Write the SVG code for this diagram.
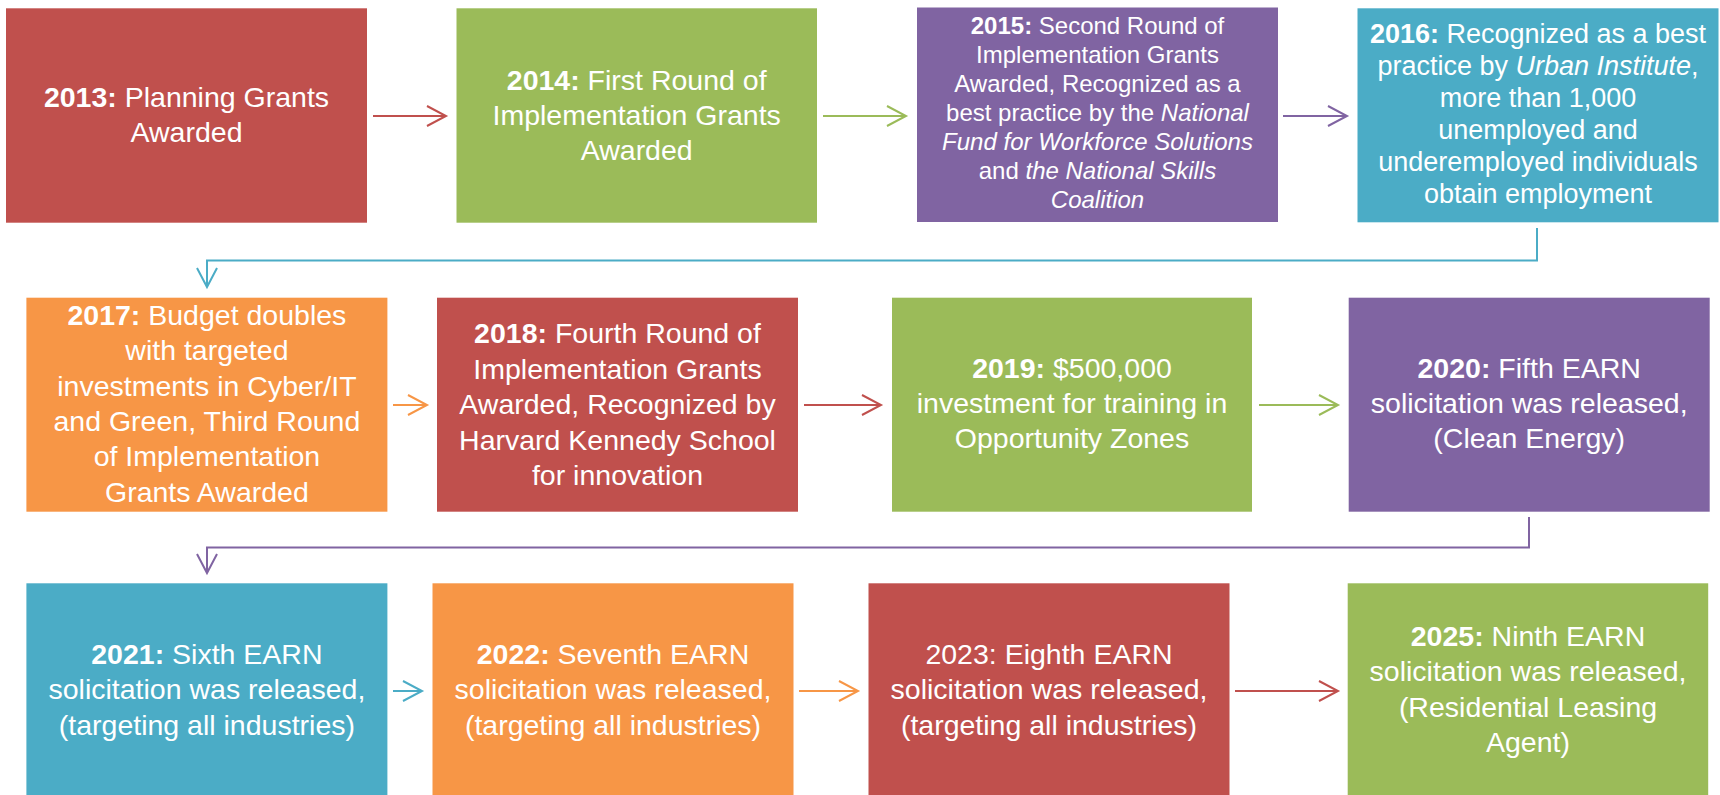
<svg xmlns="http://www.w3.org/2000/svg" width="1720" height="795" viewBox="0 0 1720 795">
<style>
text{font-family:"Liberation Sans",Arial,sans-serif;fill:#fff;text-anchor:middle}
.f285{font-size:28.5px}
.f27{font-size:27px}
.f24{font-size:24px}
.b{font-weight:bold}
.i{font-style:italic}
.red{fill:#C0504D}.grn{fill:#9BBB59}.pur{fill:#8064A2}.teal{fill:#4BACC6}.org{fill:#F79646}
.c{fill:none;stroke-width:2}
</style>
<defs>
<marker id="mr" markerUnits="userSpaceOnUse" markerWidth="24" markerHeight="24" viewBox="-21 -12 24 24" refX="0" refY="0" orient="auto"><path d="M-19,-10 L0,0 L-19,10" fill="none" stroke="#C0504D" stroke-width="2"/></marker>
<marker id="mg" markerUnits="userSpaceOnUse" markerWidth="24" markerHeight="24" viewBox="-21 -12 24 24" refX="0" refY="0" orient="auto"><path d="M-19,-10 L0,0 L-19,10" fill="none" stroke="#9BBB59" stroke-width="2"/></marker>
<marker id="mp" markerUnits="userSpaceOnUse" markerWidth="24" markerHeight="24" viewBox="-21 -12 24 24" refX="0" refY="0" orient="auto"><path d="M-19,-10 L0,0 L-19,10" fill="none" stroke="#8064A2" stroke-width="2"/></marker>
<marker id="mt" markerUnits="userSpaceOnUse" markerWidth="24" markerHeight="24" viewBox="-21 -12 24 24" refX="0" refY="0" orient="auto"><path d="M-19,-10 L0,0 L-19,10" fill="none" stroke="#4BACC6" stroke-width="2"/></marker>
<marker id="mo" markerUnits="userSpaceOnUse" markerWidth="24" markerHeight="24" viewBox="-21 -12 24 24" refX="0" refY="0" orient="auto"><path d="M-19,-10 L0,0 L-19,10" fill="none" stroke="#F79646" stroke-width="2"/></marker>
</defs>
<rect width="1720" height="795" fill="#fff"/>

<g id="connectors">
<path class="c" stroke="#C0504D" d="M373,116 H446" marker-end="url(#mr)"/>
<path class="c" stroke="#9BBB59" d="M823,116 H906" marker-end="url(#mg)"/>
<path class="c" stroke="#8064A2" d="M1283,116 H1347" marker-end="url(#mp)"/>
<path class="c" stroke="#4BACC6" d="M1537,228 V260.5 H207 V287" marker-end="url(#mt)"/>
<path class="c" stroke="#F79646" d="M393,405 H427" marker-end="url(#mo)"/>
<path class="c" stroke="#C0504D" d="M804,405 H881" marker-end="url(#mr)"/>
<path class="c" stroke="#9BBB59" d="M1259,405 H1338" marker-end="url(#mg)"/>
<path class="c" stroke="#8064A2" d="M1529,517 V547.5 H207 V573" marker-end="url(#mp)"/>
<path class="c" stroke="#4BACC6" d="M393,691 H422" marker-end="url(#mt)"/>
<path class="c" stroke="#F79646" d="M799,691 H858" marker-end="url(#mo)"/>
<path class="c" stroke="#C0504D" d="M1235,691 H1338" marker-end="url(#mr)"/>
</g>

<g id="n2013">
<rect class="red" x="6" y="8.3" width="361" height="214.4"/>
<text class="f285" x="186.5"><tspan x="186.5" y="106.7"><tspan class="b">2013:</tspan> Planning Grants</tspan><tspan x="186.5" y="141.7">Awarded</tspan></text>
</g>

<g id="n2014">
<rect class="grn" x="456.5" y="8.3" width="360.5" height="214.4"/>
<text class="f285" x="636.7"><tspan x="636.7" y="90"><tspan class="b">2014:</tspan> First Round of</tspan><tspan x="636.7" y="125">Implementation Grants</tspan><tspan x="636.7" y="160">Awarded</tspan></text>
</g>

<g id="n2015">
<rect class="pur" x="917" y="7.5" width="361" height="214.5"/>
<text class="f24"><tspan x="1097.5" y="33.5"><tspan class="b">2015:</tspan> Second Round of</tspan><tspan x="1097.5" y="62.6">Implementation Grants</tspan><tspan x="1097.5" y="91.7">Awarded, Recognized as a</tspan><tspan x="1097.5" y="120.8">best practice by the <tspan class="i">National</tspan></tspan><tspan x="1097.5" y="149.9" class="i">Fund for Workforce Solutions</tspan><tspan x="1097.5" y="179">and <tspan class="i">the National Skills</tspan></tspan><tspan x="1097.5" y="208.1" class="i">Coalition</tspan></text>
</g>

<g id="n2016">
<rect class="teal" x="1357.5" y="8.3" width="361" height="214"/>
<text class="f27"><tspan x="1538" y="43.3"><tspan class="b">2016:</tspan> Recognized as a best</tspan><tspan x="1538" y="75.3">practice by <tspan class="i">Urban Institute</tspan>,</tspan><tspan x="1538" y="107.3">more than 1,000</tspan><tspan x="1538" y="139.3">unemployed and</tspan><tspan x="1538" y="171.3">underemployed individuals</tspan><tspan x="1538" y="203.3">obtain employment</tspan></text>
</g>

<g id="n2017">
<rect class="org" x="26.4" y="297.7" width="361" height="214"/>
<text class="f285"><tspan x="206.9" y="325"><tspan class="b">2017:</tspan> Budget doubles</tspan><tspan x="206.9" y="360.3">with targeted</tspan><tspan x="206.9" y="395.6">investments in Cyber/IT</tspan><tspan x="206.9" y="430.9">and Green, Third Round</tspan><tspan x="206.9" y="466.2">of Implementation</tspan><tspan x="206.9" y="501.5">Grants Awarded</tspan></text>
</g>

<g id="n2018">
<rect class="red" x="437" y="297.7" width="361" height="214"/>
<text class="f285"><tspan x="617.5" y="343.3"><tspan class="b">2018:</tspan> Fourth Round of</tspan><tspan x="617.5" y="378.7">Implementation Grants</tspan><tspan x="617.5" y="414.1">Awarded, Recognized by</tspan><tspan x="617.5" y="449.5">Harvard Kennedy School</tspan><tspan x="617.5" y="484.9">for innovation</tspan></text>
</g>

<g id="n2019">
<rect class="grn" x="892" y="297.7" width="360" height="214"/>
<text class="f285"><tspan x="1072" y="378.3"><tspan class="b">2019:</tspan> $500,000</tspan><tspan x="1072" y="413.3">investment for training in</tspan><tspan x="1072" y="448.3">Opportunity Zones</tspan></text>
</g>

<g id="n2020">
<rect class="pur" x="1348.7" y="297.7" width="361" height="214"/>
<text class="f285"><tspan x="1529.2" y="378.3"><tspan class="b">2020:</tspan> Fifth EARN</tspan><tspan x="1529.2" y="413.3">solicitation was released,</tspan><tspan x="1529.2" y="448.3">(Clean Energy)</tspan></text>
</g>

<g id="n2021">
<rect class="teal" x="26.4" y="583.3" width="361" height="212"/>
<text class="f285"><tspan x="206.9" y="664"><tspan class="b">2021:</tspan> Sixth EARN</tspan><tspan x="206.9" y="699.3">solicitation was released,</tspan><tspan x="206.9" y="734.6">(targeting all industries)</tspan></text>
</g>

<g id="n2022">
<rect class="org" x="432.5" y="583.3" width="361" height="212"/>
<text class="f285"><tspan x="613" y="664"><tspan class="b">2022:</tspan> Seventh EARN</tspan><tspan x="613" y="699.3">solicitation was released,</tspan><tspan x="613" y="734.6">(targeting all industries)</tspan></text>
</g>

<g id="n2023">
<rect class="red" x="868.5" y="583.3" width="361" height="212"/>
<text class="f285"><tspan x="1049" y="664">2023: Eighth EARN</tspan><tspan x="1049" y="699.3">solicitation was released,</tspan><tspan x="1049" y="734.6">(targeting all industries)</tspan></text>
</g>

<g id="n2025">
<rect class="grn" x="1347.7" y="583.3" width="360.5" height="212"/>
<text class="f285"><tspan x="1528" y="646"><tspan class="b">2025:</tspan> Ninth EARN</tspan><tspan x="1528" y="681.3">solicitation was released,</tspan><tspan x="1528" y="716.6">(Residential Leasing</tspan><tspan x="1528" y="751.9">Agent)</tspan></text>
</g>
</svg>
